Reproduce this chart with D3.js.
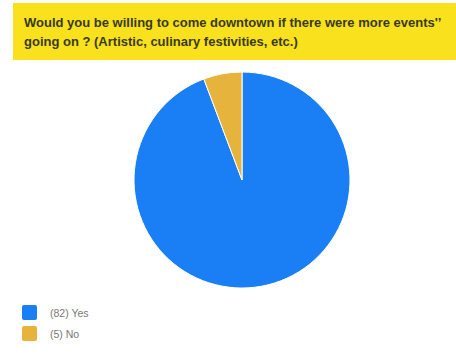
<!DOCTYPE html>
<html><head><meta charset="utf-8">
<script src="https://cdn.jsdelivr.net/npm/d3@7"></script>
<style>body{margin:0;background:#fff;}svg{display:block;font-family:"Liberation Sans",Arial,sans-serif;}</style>
</head><body>
<svg id="c" width="456" height="354"></svg>
<script>
const titleLines = ["Would you be willing to come downtown if there were more events'\u2019", "going on ? (Artistic, culinary festivities, etc.)"];
const categories = ["Yes", "No"];
const values = [82, 5];
const colors = ["#1a7ef5", "#e6b43c"];

const svg = d3.select("#c");
svg.append("rect").attr("x",13).attr("y",3).attr("width",443).attr("height",57).attr("fill","#f9e11e");
svg.append("g").selectAll("text").data(titleLines).join("text")
  .attr("x",24).attr("y",(d,i)=>27+i*19)
  .attr("font-size",13).attr("font-weight","bold").attr("fill","#3a3a1a")
  .text(d=>d);

const data = categories.map((c,i)=>({c, v: values[i]}));
const pie = d3.pie().value(d=>d.v).sort(null);
const arc = d3.arc().innerRadius(0).outerRadius(108);
svg.append("g").attr("transform","translate(242,180)")
  .selectAll("path").data(pie(data)).join("path")
  .attr("d",arc).attr("fill",(d,i)=>colors[i])
  .attr("stroke","#fff").attr("stroke-width",1);

const leg = svg.append("g").attr("transform","translate(22,305)");
const li = leg.selectAll("g").data(data).join("g").attr("transform",(d,i)=>`translate(0,${i*21})`);
li.append("rect").attr("width",15).attr("height",15).attr("rx",2).attr("fill",(d,i)=>colors[i]);
li.append("text").attr("x",28).attr("y",11.5).attr("font-size",10.5).attr("fill","#777")
  .text(d=>`(${d.v}) ${d.c}`);
</script>
</body></html>
